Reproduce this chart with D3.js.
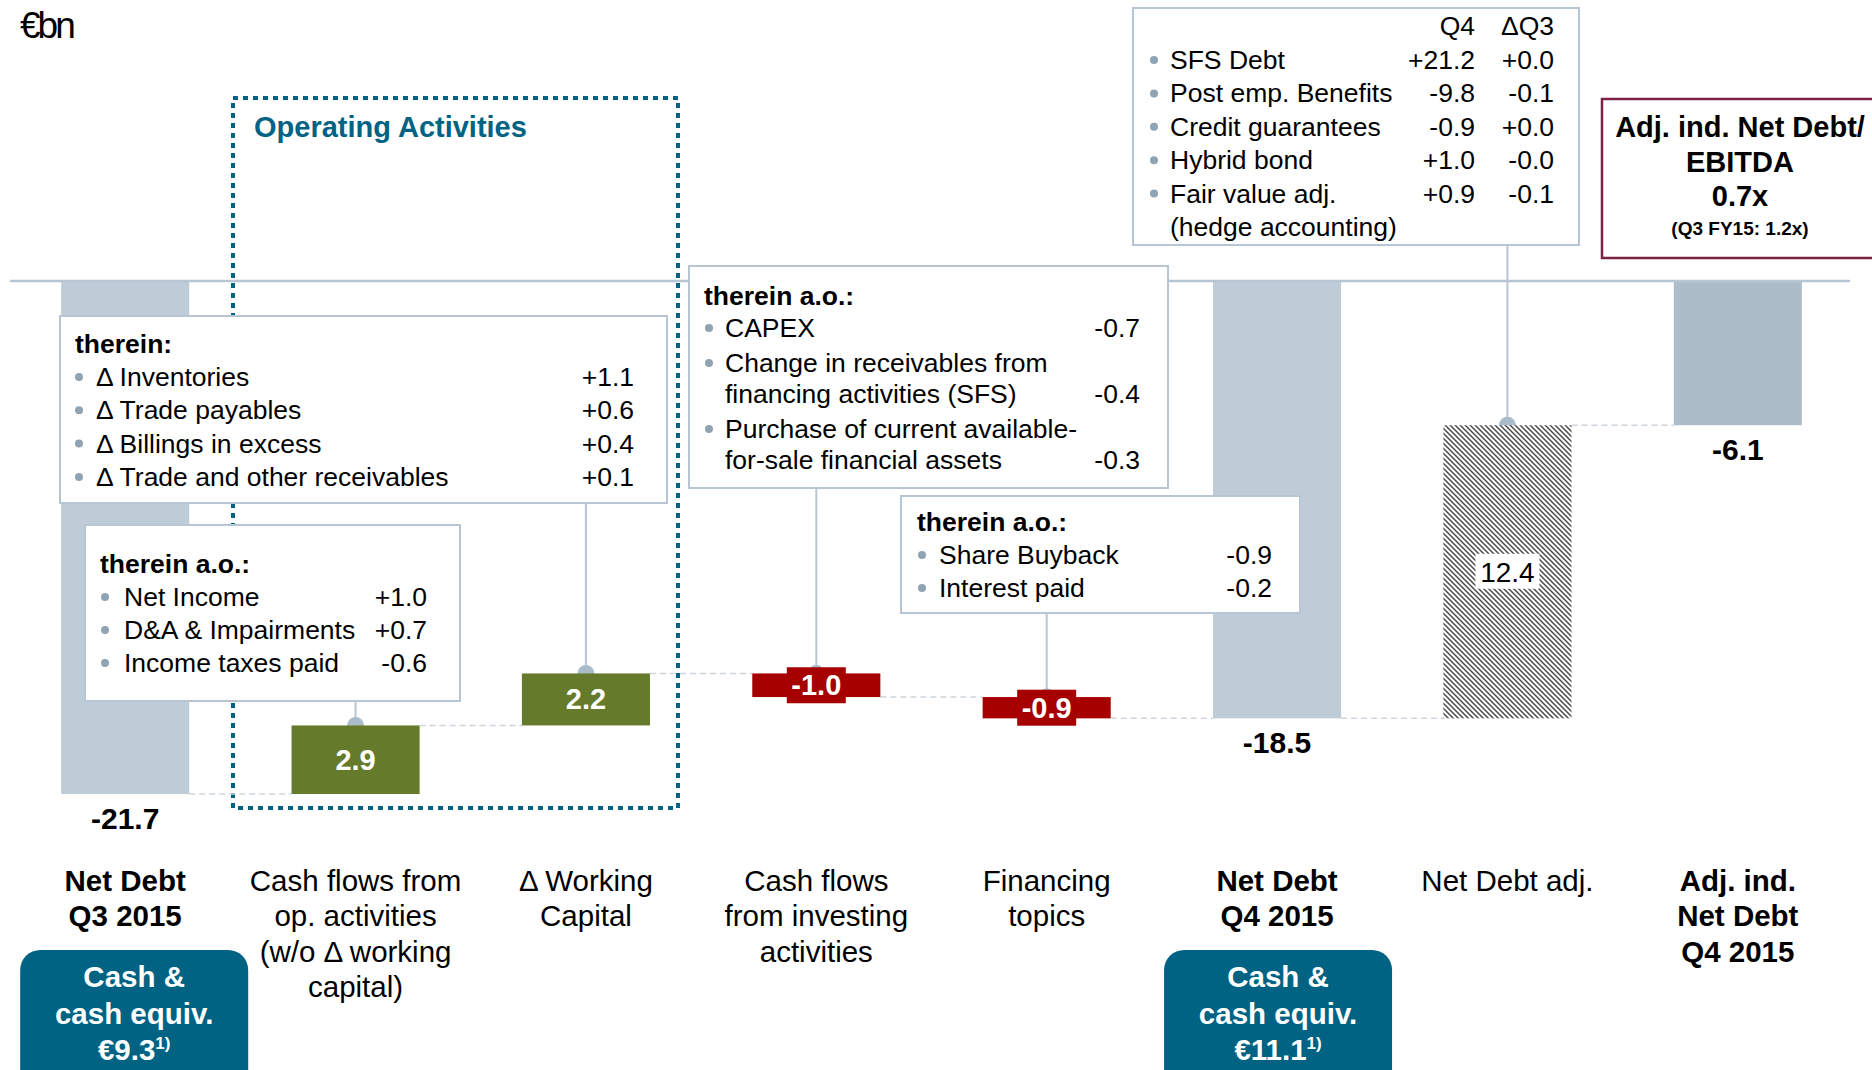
<!DOCTYPE html>
<html><head><meta charset="utf-8">
<script src="https://cdn.jsdelivr.net/npm/d3@7"></script>
<style>
body{margin:0;background:#fff}
svg{display:block}
text{font-family:"Liberation Sans",Arial,Helvetica,sans-serif}
</style>
</head><body>
<svg id="chart" width="1872" height="1070"></svg>
<script>
// ---------------- DATA ----------------
const categories = ["Net Debt Q3 2015","Cash flows from op. activities","Δ Working Capital","Cash flows from investing activities","Financing topics","Net Debt Q4 2015","Net Debt adj.","Adj. ind. Net Debt Q4 2015"];
const categoryLines = [["Net Debt","Q3 2015"],["Cash flows from","op. activities","(w/o Δ working","capital)"],["Δ Working","Capital"],["Cash flows","from investing","activities"],["Financing","topics"],["Net Debt","Q4 2015"],["Net Debt adj."],["Adj. ind.","Net Debt","Q4 2015"]];
const categoryBold = [true,false,false,false,false,true,false,true];
const values = [-21.7, 2.9, 2.2, -1.0, -0.9, -18.5, 12.4, -6.1];
const kinds = ["total","delta","delta","delta","delta","total","adj","total"];
const valueLabels = ["-21.7","2.9","2.2","-1.0","-0.9","-18.5","12.4","-6.1"];

const unitLabel = "€bn";
const opGroupTitle = "Operating Activities";

const wcTitle = "therein:";
const wcItems = [["Δ Inventories","+1.1"],["Δ Trade payables","+0.6"],["Δ Billings in excess","+0.4"],["Δ Trade and other receivables","+0.1"]];
const opTitle = "therein a.o.:";
const opItems = [["Net Income","+1.0"],["D&A & Impairments","+0.7"],["Income taxes paid","-0.6"]];
const invTitle = "therein a.o.:";
const invItems = [[["CAPEX"],"-0.7"],[["Change in receivables from","financing activities (SFS)"],"-0.4"],[["Purchase of current available-","for-sale financial assets"],"-0.3"]];
const finTitle = "therein a.o.:";
const finItems = [["Share Buyback","-0.9"],["Interest paid","-0.2"]];
const adjHeader = ["Q4","ΔQ3"];
const adjItems = [["SFS Debt","+21.2","+0.0"],["Post emp. Benefits","-9.8","-0.1"],["Credit guarantees","-0.9","+0.0"],["Hybrid bond","+1.0","-0.0"],["Fair value adj.","+0.9","-0.1"]];
const adjItemContinuation = "(hedge accounting)";
const ratioLines = ["Adj. ind. Net Debt/","EBITDA","0.7x"];
const ratioNote = "(Q3 FY15: 1.2x)";
const cashBoxes = [{bar:0, lines:["Cash &","cash equiv."], amount:"€9.3", note:"1)"},{bar:5, lines:["Cash &","cash equiv."], amount:"€11.1", note:"1)"}];

// ---------------- STYLE ----------------
const C = {
  total:"#bdccd7", totalFinal:"#acbcc9", pos:"#667a2c", neg:"#a60000",
  teal:"#006383", line:"#b7c6d2", bullet:"#8fa3b3", dash:"#cdd6de", ratio:"#7a2243"
};
const FONT = 26.5;

const svg = d3.select("#chart");

// ---------------- SCALES ----------------
const x = d3.scaleBand().domain(categories).range([10, 1853]).paddingInner(0.444).paddingOuter(0.222);
const y = d3.scaleLinear().domain([0, -21.7]).range([281, 794]);
const bw = x.bandwidth();
const cx = i => x(categories[i]) + bw/2;

// waterfall computation
let run = 0;
const bars = values.map((v,i) => {
  let s, e;
  if (kinds[i] === "total") { s = 0; e = v; }
  else { s = run; e = run + v; }
  run = e;
  return {i, v, s, e, kind:kinds[i], top:y(Math.max(s,e)), bottom:y(Math.min(s,e))};
});

// pattern
const defs = svg.append("defs");
const pat = defs.append("pattern").attr("id","hatch").attr("patternUnits","userSpaceOnUse")
  .attr("width",5).attr("height",5);
pat.append("rect").attr("width",5).attr("height",5).attr("fill","#fff");
pat.append("path").attr("d","M0,0 L5,5 M-1,4 L1,6 M4,-1 L6,1")
  .attr("stroke","#4a4a4a").attr("stroke-width",1.5);

// unit label
svg.append("text").attr("x",20).attr("y",38).attr("font-size",37).attr("fill","#000")
  .attr("letter-spacing","-3").text(unitLabel);

// operating activities dotted box
svg.append("rect").attr("x",233).attr("y",98).attr("width",445).attr("height",710)
  .attr("fill","none").attr("stroke",C.teal).attr("stroke-width",4).attr("stroke-dasharray","5,5");
svg.append("text").attr("x",254).attr("y",137).attr("font-size",29).attr("font-weight","bold")
  .attr("fill",C.teal).text(opGroupTitle);

// connectors (dashed)
for (let i=0;i<bars.length-1;i++){
  const lv = y(bars[i].e);
  svg.append("line").attr("x1",x(categories[i])+bw).attr("x2",x(categories[i+1]))
    .attr("y1",lv).attr("y2",lv).attr("stroke",C.dash).attr("stroke-width",1.5).attr("stroke-dasharray","6,4");
}

// leader lines + bump circles (behind bars)
const callouts = [
  {bar:2, from:503},
  {bar:1, from:701},
  {bar:3, from:488},
  {bar:4, from:613},
  {bar:6, from:245}
];
callouts.forEach(c=>{
  const b = bars[c.bar];
  svg.append("line").attr("x1",cx(c.bar)).attr("x2",cx(c.bar)).attr("y1",c.from).attr("y2",b.top)
    .attr("stroke",C.line).attr("stroke-width",2);
  svg.append("circle").attr("cx",cx(c.bar)).attr("cy",b.top).attr("r",8.5).attr("fill","#aabbc9");
});

// bars
function barFill(b){
  if (b.kind==="total") return b.i===bars.length-1 ? C.totalFinal : C.total;
  if (b.kind==="adj") return "url(#hatch)";
  return b.v>=0 ? C.pos : C.neg;
}
svg.selectAll("rect.bar").data(bars).enter().append("rect").attr("class","bar")
  .attr("x",d=>x(categories[d.i])).attr("width",bw)
  .attr("y",d=>d.top).attr("height",d=>d.bottom-d.top)
  .attr("fill",barFill);

// baseline
svg.append("line").attr("x1",10).attr("x2",1850).attr("y1",y(0)).attr("y2",y(0))
  .attr("stroke",C.line).attr("stroke-width",2.5);

// bar value labels
bars.forEach(b=>{
  const mid = (b.top+b.bottom)/2;
  if (b.kind==="total"){
    svg.append("text").attr("x",cx(b.i)).attr("y",b.bottom+35).attr("text-anchor","middle")
      .attr("font-size",30).attr("font-weight","bold").text(valueLabels[b.i]);
  } else if (b.kind==="adj"){
    svg.append("rect").attr("x",cx(b.i)-32).attr("y",mid-18).attr("width",64).attr("height",35).attr("fill","#fff");
    svg.append("text").attr("x",cx(b.i)).attr("y",mid+10).attr("text-anchor","middle")
      .attr("font-size",28).text(valueLabels[b.i]);
  } else if (b.v>=0){
    svg.append("text").attr("x",cx(b.i)).attr("y",mid+10).attr("text-anchor","middle")
      .attr("font-size",29).attr("font-weight","bold").attr("fill","#fff").text(valueLabels[b.i]);
  } else {
    svg.append("rect").attr("x",cx(b.i)-29.5).attr("y",mid-18).attr("width",59).attr("height",36).attr("fill",C.neg);
    svg.append("text").attr("x",cx(b.i)).attr("y",mid+10).attr("text-anchor","middle")
      .attr("font-size",29).attr("font-weight","bold").attr("fill","#fff").text(valueLabels[b.i]);
  }
});

// ---------------- CALLOUT BOXES ----------------
function box(x0,y0,x1,y1,stroke,sw){
  svg.append("rect").attr("x",x0).attr("y",y0).attr("width",x1-x0).attr("height",y1-y0)
    .attr("fill","#fff").attr("stroke",stroke||C.line).attr("stroke-width",sw||2);
}
function bullet(bx,by){
  svg.append("circle").attr("cx",bx).attr("cy",by-9).attr("r",4).attr("fill",C.bullet);
}
function txt(tx,ty,s,opt){
  opt = opt||{};
  return svg.append("text").attr("x",tx).attr("y",ty).attr("font-size",opt.size||FONT)
    .attr("font-weight",opt.bold?"bold":"normal").attr("text-anchor",opt.anchor||"start")
    .attr("fill",opt.fill||"#000").text(s);
}

// Box A: working capital
box(60,316,667,503);
txt(75,353,wcTitle,{bold:true});
wcItems.forEach((it,k)=>{
  const by = 386 + 33.3*k;
  bullet(79,by); txt(96,by,it[0]); txt(634,by,it[1],{anchor:"end"});
});

// Box B: op. activities
box(85,525,460,701);
txt(100,573,opTitle,{bold:true});
opItems.forEach((it,k)=>{
  const by = 606 + 33*k;
  bullet(105,by); txt(124,by,it[0]); txt(427,by,it[1],{anchor:"end"});
});

// Box C: investing
box(689,266,1168,488);
txt(704,305,invTitle,{bold:true});
{
  let by = 337;
  invItems.forEach((it,k)=>{
    if (k>0) by += 35;
    bullet(709,by);
    it[0].forEach((ln,j)=>{ if (j>0) by += 31; txt(725,by,ln); });
    txt(1140,by,it[1],{anchor:"end"});
  });
}

// Box D: financing
box(901,496,1300,613);
txt(917,531,finTitle,{bold:true});
finItems.forEach((it,k)=>{
  const by = 564 + 33*k;
  bullet(922,by); txt(939,by,it[0]); txt(1272,by,it[1],{anchor:"end"});
});

// Box E: net debt adj.
box(1133,8,1579,245);
txt(1475,35,adjHeader[0],{anchor:"end"});
txt(1554,35,adjHeader[1],{anchor:"end"});
adjItems.forEach((it,k)=>{
  const by = 69 + 33.4*k;
  bullet(1154,by); txt(1170,by,it[0]);
  txt(1475,by,it[1],{anchor:"end"}); txt(1554,by,it[2],{anchor:"end"});
});
txt(1170,236,adjItemContinuation);

// Box F: ratio
box(1602,99,1885,258,C.ratio,2.5);
ratioLines.forEach((ln,k)=>{
  txt(1740,137+34.5*k,ln,{bold:true,size:29,anchor:"middle"});
});
txt(1740,235,ratioNote,{bold:true,size:19,anchor:"middle"});

// ---------------- CATEGORY LABELS ----------------
categoryLines.forEach((lines,i)=>{
  lines.forEach((ln,k)=>{
    txt(cx(i),891+35.3*k,ln,{size:29.5,bold:categoryBold[i],anchor:"middle"});
  });
});

// ---------------- CASH BOXES ----------------
const cashOffsets = [9, 1];
cashBoxes.forEach((cb,j)=>{
  const c = cx(cb.bar) + cashOffsets[j];
  svg.append("rect").attr("x",c-114).attr("y",950).attr("width",228).attr("height",150)
    .attr("rx",20).attr("ry",20).attr("fill",C.teal);
  cb.lines.forEach((ln,k)=>{
    txt(c,987+36.5*k,ln,{size:29.5,bold:true,fill:"#fff",anchor:"middle"});
  });
  const t = svg.append("text").attr("x",c).attr("y",1060).attr("text-anchor","middle")
    .attr("font-size",29.5).attr("font-weight","bold").attr("fill","#fff");
  t.append("tspan").text(cb.amount);
  t.append("tspan").attr("font-size",17).attr("dy",-11).text(cb.note);
});
</script>
</body></html>
